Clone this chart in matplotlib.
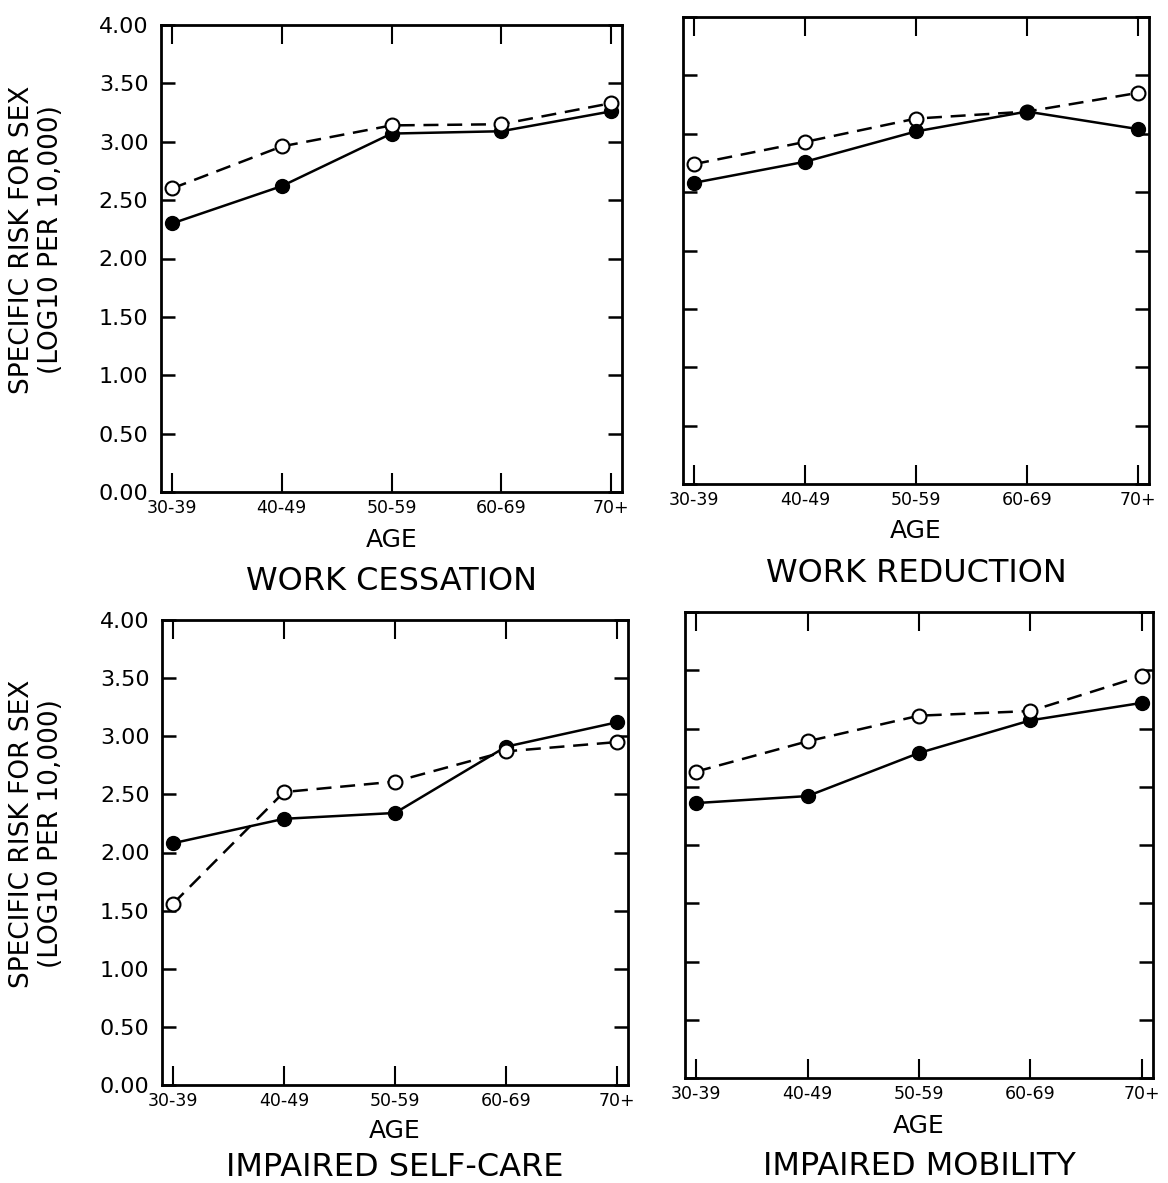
import matplotlib
matplotlib.use('Agg')
import matplotlib.pyplot as plt
import numpy as np

# --- Datos ---
edades = ['30-39', '40-49', '50-59', '60-69', '70+']

cesacion_llenos = [2.30, 2.62, 3.07, 3.09, 3.26]
cesacion_vacios = [2.60, 2.96, 3.14, 3.15, 3.33]

reduccion_llenos = [2.58, 2.76, 3.02, 3.19, 3.04]
reduccion_vacios = [2.74, 2.93, 3.13, 3.19, 3.35]

autocuidado_llenos = [2.08, 2.29, 2.34, 2.91, 3.12]
autocuidado_vacios = [1.56, 2.52, 2.61, 2.87, 2.95]

movilidad_llenos = [2.36, 2.42, 2.79, 3.07, 3.22]
movilidad_vacios = [2.63, 2.89, 3.11, 3.15, 3.45]

titulos = ['WORK CESSATION', 'WORK REDUCTION', 'IMPAIRED SELF-CARE', 'IMPAIRED MOBILITY']
y_ticks = [0.0, 0.5, 1.0, 1.5, 2.0, 2.5, 3.0, 3.5, 4.0]

paneles = [
    (cesacion_llenos, cesacion_vacios),
    (reduccion_llenos, reduccion_vacios),
    (autocuidado_llenos, autocuidado_vacios),
    (movilidad_llenos, movilidad_vacios),
]

# posiciones de cada panel en pixeles (izq, arriba, der, abajo)
W, H = 1168, 1183
cajas = [
    (161, 25, 622, 492),
    (683, 17, 1149, 484),
    (162, 620, 628, 1085),
    (685, 612, 1153, 1078),
]
# lineas base (px) de "AGE" y del título de cada panel
base_age = [547, 538, 1138, 1133]
base_titulo = [590, 582, 1176, 1175]
# en WORK REDUCTION el punto lleno tapa al vacío en 60-69
vacio_arriba = [True, False, True, True]

fig = plt.figure(figsize=(W / 100, H / 100), dpi=100)
plt.rcParams['font.family'] = 'DejaVu Sans'

for i, ((llenos, vacios), titulo, caja) in enumerate(zip(paneles, titulos, cajas)):
    x0, y0, x1, y1 = caja
    ax = fig.add_axes([x0 / W, 1 - y1 / H, (x1 - x0) / W, (y1 - y0) / H])
    x = np.arange(len(edades))

    z_vacio = 4 if vacio_arriba[i] else 2
    ax.plot(x, llenos, color='black', linewidth=1.8, marker='o', markersize=10,
            markerfacecolor='black', markeredgecolor='black', zorder=3, clip_on=False)
    ax.plot(x, vacios, color='black', linewidth=1.8, dashes=(6, 3.5), marker='o',
            markersize=10, markerfacecolor='white', markeredgecolor='black',
            markeredgewidth=1.5, zorder=z_vacio, clip_on=False)

    ax.set_xlim(-0.1, 4.1)
    ax.set_ylim(0, 4)
    ax.set_xticks(x)
    ax.set_xticklabels(edades, fontsize=12.5)
    ax.set_yticks(y_ticks)
    if i % 2 == 0:
        ax.set_yticklabels([f'{v:.2f}' for v in y_ticks], fontsize=16)
    else:
        ax.set_yticklabels([])

    ax.tick_params(axis='x', direction='in', length=14, width=1.5, top=True, pad=5)
    ax.tick_params(axis='y', direction='in', length=10, width=1.8, right=True, pad=9)
    for s in ax.spines.values():
        s.set_linewidth(2)

    xc = (x0 + x1) / 2 / W
    fig.text(xc, 1 - base_age[i] / H, 'AGE', ha='center', va='baseline', fontsize=18)
    fig.text(xc, 1 - base_titulo[i] / H, titulo, ha='center', va='baseline', fontsize=23)

    if i % 2 == 0:
        alto = y1 - y0
        yc = 1 - (y1 - 0.54 * alto) / H
        fig.text(22 / W, yc, 'SPECIFIC RISK FOR SEX', rotation=90, ha='center',
                 va='center', fontsize=19)
        fig.text(51 / W, yc, '(LOG10 PER 10,000)', rotation=90, ha='center',
                 va='center', fontsize=19)

plt.savefig('out.png', dpi=100, facecolor='white')
